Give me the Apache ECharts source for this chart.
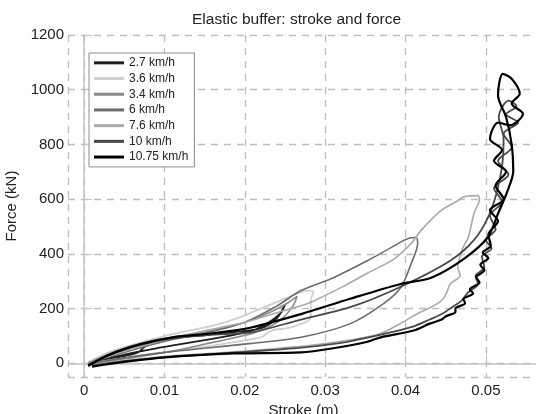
<!DOCTYPE html>
<html>
<head>
<meta charset="UTF-8">
<title>Elastic buffer</title>
<script src="https://cdn.jsdelivr.net/npm/echarts@6/dist/echarts.min.js"></script>
<style>
  html, body { margin: 0; padding: 0; background: #fff; }
  #chart { width: 536px; height: 414px; }
</style>
</head>
<body>
<div id="chart"></div>
<script>
// speeds shown in the legend
var speeds = ['2.7 km/h', '3.6 km/h', '3.4 km/h', '6 km/h', '7.6 km/h', '10 km/h', '10.75 km/h'];
var colors = ['#1e1e1e', '#cfcfcf', '#8a8a8a', '#6c6c6c', '#a9a9a9', '#484848', '#000000'];
var widths = [1.8, 1.8, 1.6, 1.6, 1.6, 1.8, 2.2];

// [stroke (m), force (kN)], loading then unloading
var loop27 = [[0.0005,-3],[0.004,20],[0.0067,40],[0.008,72],[0.0108,92],[0.0142,100],[0.017,110],[0.022,128],
  [0.024,165],[0.025,215],[0.0245,185],[0.023,150],[0.021,120],[0.018,100],[0.015,85],[0.012,70],
  [0.009,55],[0.006,38],[0.003,18],[0.0005,-5]];
var loop36 = [[0.0005,5],[0.0037,47],[0.008,84],[0.012,113],[0.0162,139],[0.019,164],[0.022,200],[0.0254,241],
  [0.0279,266],[0.0285,262],[0.0282,225],[0.0282,168],[0.0257,131],[0.0233,120],[0.022,95],[0.0117,47],
  [0.005,20],[0.001,0]];
var loop34 = [[0.0005,0],[0.004,45],[0.008,80],[0.012,100],[0.016,120],[0.02,150],[0.023,185],[0.025,215],
  [0.0265,245],[0.026,210],[0.0245,160],[0.022,120],[0.019,95],[0.015,70],[0.012,50],[0.008,30],
  [0.004,12],[0.0005,-5]];
var loop60 = [[0.0005,0],[0.005,40],[0.01,80],[0.015,110],[0.02,150],[0.024,210],[0.027,266],[0.0311,314],
  [0.0353,376],[0.0382,423],[0.0403,456],[0.0413,460],[0.0415,438],[0.0407,365],[0.0394,277],[0.0373,219],
  [0.0332,146],[0.027,95],[0.0208,73],[0.015,55],[0.01,40],[0.005,20],[0.001,0]];
var loop76 = [[0.0005,0],[0.004,35],[0.008,70],[0.012,100],[0.016,125],[0.02,150],[0.024,185],[0.0275,215],
  [0.0295,241],[0.0325,285],[0.0353,330],[0.0385,380],[0.0407,438],[0.0419,485],[0.0444,558],[0.0465,594],
  [0.0473,609],[0.049,613],[0.0492,600],[0.0485,547],[0.0478,460],[0.0471,420],[0.0465,350],[0.0468,320],
  [0.0456,292],[0.0452,265],[0.0448,241],[0.044,219],[0.0423,193],[0.0415,182],[0.0394,146],[0.0369,109],
  [0.033,85],[0.028,65],[0.02,45],[0.015,35],[0.01,25],[0.005,10],[0.001,-5]];
var loop100 = [[0.0005,-5],[0.004,40],[0.008,75],[0.012,95],[0.016,105],[0.0208,113],[0.027,160],[0.0332,206],
  [0.0394,280],[0.0456,376],[0.0485,450],[0.0502,530],[0.0513,620],[0.052,720],[0.0522,820],[0.0516,900],
  [0.0528,960],[0.0538,940],[0.0525,910],[0.054,880],[0.0522,840],[0.0532,790],[0.0515,740],[0.0528,690],
  [0.051,640],[0.052,590],[0.0505,540],[0.0512,490],[0.05,450],[0.0507,420],[0.0495,390],[0.0498,350],
  [0.0487,320],[0.049,290],[0.0478,260],[0.047,230],[0.0458,205],[0.0445,180],[0.043,160],[0.041,135],
  [0.038,112],[0.035,92],[0.032,75],[0.028,60],[0.024,50],[0.02,42],[0.015,32],[0.01,22],[0.005,8],[0.001,-8]];
var loop1075 = [[0.0005,-10],[0.003,30],[0.007,70],[0.011,95],[0.016,110],[0.0208,131],[0.027,180],[0.033,235],
  [0.0394,290],[0.0432,313],[0.0473,383],[0.0502,460],[0.0515,547],[0.0527,631],[0.0534,704],[0.0532,800],
  [0.0525,900],[0.0515,980],[0.0521,1058],[0.0532,1040],[0.0542,985],[0.0532,950],[0.0546,912],[0.053,870],
  [0.0515,880],[0.0505,820],[0.052,780],[0.051,740],[0.0525,700],[0.0512,650],[0.0522,600],[0.0505,560],
  [0.0515,520],[0.0503,470],[0.0506,430],[0.0496,405],[0.0503,385],[0.0493,360],[0.0498,340],[0.0488,315],
  [0.0492,295],[0.048,270],[0.0484,255],[0.0472,235],[0.0474,220],[0.0462,200],[0.0462,188],[0.045,172],
  [0.0445,160],[0.043,145],[0.041,120],[0.0369,95],[0.035,77],[0.031,55],[0.027,40],[0.0187,36],
  [0.01,22],[0.005,5],[0.001,-12]];
var loops = [loop27, loop36, loop34, loop60, loop76, loop100, loop1075];

var chart = echarts.init(document.getElementById('chart'));

var series = [];
for (var i = 0; i < speeds.length; i++) {
  series.push({
    name: speeds[i],
    type: 'line',
    symbol: 'none',
    smooth: 0.3,
    clip: true,
    data: loops[i],
    lineStyle: { color: colors[i], width: widths[i] },
    itemStyle: { color: colors[i] }
  });
}

var axisFont = { fontFamily: 'Liberation Sans', fontSize: 15, color: '#222' };
var dashed = { show: true, lineStyle: { color: '#bdbdbd', type: [7, 6], width: 1.3 } };

chart.setOption({
  animation: false,
  backgroundColor: '#fff',
  title: {
    text: 'Elastic buffer: stroke and force',
    left: 187, top: 7,
    textStyle: { fontFamily: 'Liberation Sans', fontSize: 15.5, fontWeight: 'normal', color: '#222' }
  },
  grid: { left: 68, right: -3, top: 35, bottom: 37, containLabel: false, outerBoundsMode: 'none' },
  legend: {
    data: speeds,
    orient: 'vertical',
    left: 89, top: 53,
    icon: 'rect',
    itemWidth: 30, itemHeight: 3, itemGap: 2,
    padding: [3, 6, 3, 5],
    borderColor: '#8c8c8c', borderWidth: 1,
    backgroundColor: '#fff',
    textStyle: { fontFamily: 'Liberation Sans', fontSize: 12, color: '#222', lineHeight: 13.7 }
  },
  xAxis: {
    type: 'value',
    min: -0.002, max: 0.0566,
    splitNumber: 5,
    name: 'Stroke (m)', nameLocation: 'middle', nameGap: 21,
    nameTextStyle: axisFont,
    axisLine: { lineStyle: { color: '#c4c4c4', width: 1.5 } },
    axisTick: { inside: true, length: 8, lineStyle: { color: '#c4c4c4' } },
    axisLabel: Object.assign({ margin: 6, showMinLabel: false, showMaxLabel: false }, axisFont),
    splitLine: dashed
  },
  yAxis: {
    type: 'value',
    min: -50, max: 1200,
    splitNumber: 6,
    name: 'Force (kN)', nameLocation: 'middle', nameGap: 43,
    nameTextStyle: axisFont,
    axisLine: { show: true, lineStyle: { color: '#c4c4c4', width: 1.5 } },
    axisTick: { show: true, inside: true, length: 8, lineStyle: { color: '#c4c4c4' } },
    axisLabel: Object.assign({ margin: 4, showMinLabel: false, formatter: function (v) { return String(v); } }, axisFont),
    splitLine: dashed
  },
  series: series
});
</script>
</body>
</html>
